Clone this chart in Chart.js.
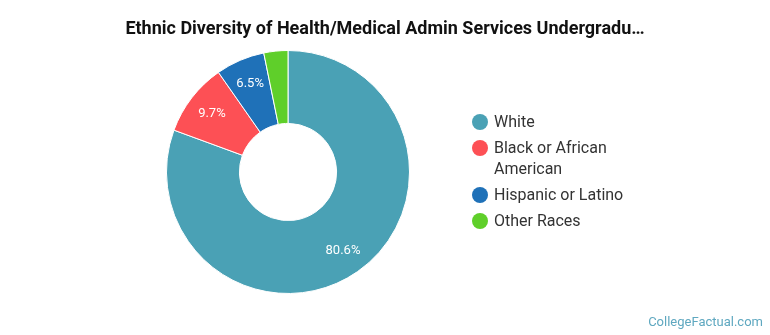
<!DOCTYPE html>
<html>
<head>
<meta charset="utf-8">
<script src="https://cdn.jsdelivr.net/npm/chart.js@4"></script>
<style>
  body { margin: 0; background: #fff; font-family: Roboto, sans-serif; }
  #wrap { position: relative; width: 770px; height: 335px; }
  #title { position: absolute; left: 0; width: 770px; top: 17px; text-align: center;
           font-size: 18px; font-weight: bold; color: #111; line-height: 22px; }
  #legend { position: absolute; left: 472px; top: 111px; }
  .item { display: flex; align-items: flex-start; margin-bottom: 5px; }
  .dot { width: 16px; height: 16px; border-radius: 50%; margin: 3px 6px 0 0; flex: none; }
  .txt { font-size: 16px; line-height: 21px; color: #333; width: 140px; }
  #brand { position: absolute; right: 7px; bottom: 6px; font-size: 13px; color: #5fa8c0; }
</style>
</head>
<body>
<div id="wrap">
  <canvas id="raceChart" width="770" height="335"></canvas>
  <div id="title">Ethnic Diversity of Health/Medical Admin Services Undergradu…</div>
  <div id="legend"></div>
  <div id="brand">CollegeFactual.com</div>
</div>
<script>
// categories and shares (%)
let races = ["White", "Black or African American", "Hispanic or Latino", "Other Races"];
let shares = [80.6, 9.7, 6.5, 3.2];
let colors = ['#4aa1b5', '#fd5055', '#1f71b8', '#5fcf2a'];

// percentage labels on the slices (small slices skipped)
const sliceLabels = {
    id: 'sliceLabels',
    afterDatasetsDraw(chart) {
        const ctx = chart.ctx;
        const meta = chart.getDatasetMeta(0);
        ctx.save();
        ctx.font = '13px Roboto, sans-serif';
        ctx.fillStyle = '#fff';
        ctx.textAlign = 'center';
        ctx.textBaseline = 'middle';
        meta.data.forEach((arc, i) => {
            if (shares[i] < 5) return;
            const mid = (arc.startAngle + arc.endAngle) / 2;
            const r = (arc.innerRadius + arc.outerRadius) / 2 + 11;
            ctx.fillText(shares[i] + '%', arc.x + Math.cos(mid) * r, arc.y + Math.sin(mid) * r);
        });
        ctx.restore();
    }
};

const ctxRace = document.getElementById('raceChart').getContext('2d');
const raceChart = new Chart(ctxRace, {
    type: 'doughnut',
    data: {
        labels: races,
        datasets: [{
            data: shares,
            backgroundColor: colors,
            borderColor: '#fff',
            borderWidth: 1
        }]
    },
    options: {
        responsive: false,
        animation: false,
        cutout: '40%',
        layout: { padding: { left: 0, right: 194, top: 50, bottom: 41 } },
        plugins: {
            legend: { display: false },
            tooltip: { enabled: false },
            title: { display: false }
        }
    },
    plugins: [sliceLabels]
});

// html legend so the long label can wrap
let legendBox = document.getElementById('legend');
races.forEach((name, i) => {
    legendBox.innerHTML += '<div class="item"><span class="dot" style="background:' + colors[i] +
        '"></span><span class="txt">' + name + '</span></div>';
});
</script>
</body>
</html>
